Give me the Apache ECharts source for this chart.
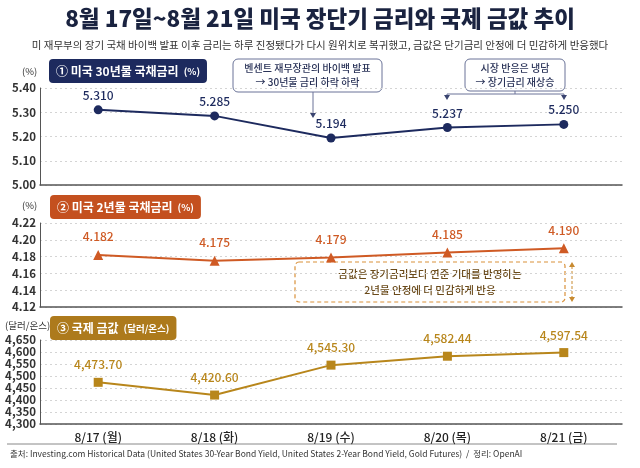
<!DOCTYPE html>
<html>
<head>
<meta charset="utf-8">
<script src="https://cdn.jsdelivr.net/npm/echarts@6/dist/echarts.min.js"></script>
<style>
  html, body { margin: 0; padding: 0; background: #fff; }
  #main { width: 640px; height: 468px; }
</style>
</head>
<body>
<div id="main"></div>
<script>
// 날짜 (x축)
var days = ["8/17 (월)", "8/18 (화)", "8/19 (수)", "8/20 (목)", "8/21 (금)"];
// 미국 30년물 국채금리 (%)
var us30y = [5.310, 5.285, 5.194, 5.237, 5.250];
// 미국 2년물 국채금리 (%)
var us2y = [4.182, 4.175, 4.179, 4.185, 4.190];
// 국제 금값 (달러/온스)
var gold = [4473.70, 4420.60, 4545.30, 4582.44, 4597.54];

var font = "Noto Sans CJK KR";
var navy = "#1d2a5e";
var orange = "#cf5a24";
var goldColor = "#b8861b";

var chart = echarts.init(document.getElementById("main"));

function yAxisOf(idx, min, max, interval, digits, comma) {
  return {
    type: "value",
    gridIndex: idx,
    min: min,
    max: max,
    interval: interval,
    axisLine: { show: true, lineStyle: { color: "#555", width: 1 } },
    axisTick: { show: false },
    splitLine: { lineStyle: { color: "#d4d4d4", type: [2, 3] } },
    axisLabel: {
      fontFamily: font,
      fontSize: 11.5,
      fontWeight: "bold",
      color: "#333",
      margin: 4,
      formatter: function (v) {
        return comma ? v.toLocaleString("en-US") : v.toFixed(digits);
      }
    }
  };
}

function xAxisOf(idx, showLabel) {
  return {
    type: "category",
    gridIndex: idx,
    data: days,
    boundaryGap: true,
    axisLine: { show: true, lineStyle: { color: "#555", width: 1.5 } },
    axisTick: { show: false },
    axisLabel: {
      show: showLabel,
      fontFamily: font,
      fontSize: 12,
      fontWeight: 500,
      color: "#222",
      margin: 7
    }
  };
}

function seriesOf(idx, data, color, symbol, size, dist, fmt) {
  return {
    type: "line",
    xAxisIndex: idx,
    yAxisIndex: idx,
    data: data,
    symbol: symbol,
    symbolSize: size,
    lineStyle: { color: color, width: 2 },
    itemStyle: { color: color },
    label: {
      show: true,
      position: "top",
      distance: dist,
      fontFamily: font,
      fontSize: 12,
      fontWeight: 500,
      color: color,
      formatter: function (p) { return fmt(p.value); }
    },
    z: 5
  };
}

// 패널 제목 뱃지
function badge(text, unit, x, y, bg) {
  return {
    text: "{a|" + text + "} {b|" + unit + "}",
    left: x,
    top: y,
    backgroundColor: bg,
    borderRadius: 4,
    padding: [3, 7, 3, 7],
    textStyle: {
      rich: {
        a: { fontFamily: font, fontSize: 12, fontWeight: "bold", color: "#fff" },
        b: { fontFamily: font, fontSize: 9.5, fontWeight: "bold", color: "#fff" }
      }
    }
  };
}

function unitText(text, x, y) {
  return {
    type: "text", left: x, top: y,
    style: { text: text, fontFamily: font, fontSize: 9.5, fill: "#333" }
  };
}

function arrowHead(x, y, color) {
  return {
    type: "polygon",
    shape: { points: [[x - 3, y - 5], [x + 3, y - 5], [x, y]] },
    style: { fill: color }
  };
}

function noteBox(x, y, w, h, lines) {
  return {
    type: "group",
    children: [
      {
        type: "rect",
        shape: { x: x, y: y, width: w, height: h, r: 5 },
        style: { fill: "#fff", stroke: "#6a7398", lineWidth: 1 }
      },
      {
        type: "text",
        x: x + w / 2, y: y + h / 2,
        style: {
          text: lines.join("\n"),
          align: "center", verticalAlign: "middle",
          fontFamily: font, fontSize: 10, fontWeight: 500, lineHeight: 14, fill: "#2a3358"
        }
      }
    ]
  };
}

var option = {
  backgroundColor: "#fff",
  animation: false,
  title: [
    {
      text: "8월 17일~8월 21일 미국 장단기 금리와 국제 금값 추이",
      left: "center",
      top: 2,
      textStyle: { fontFamily: font, fontSize: 22.5, fontWeight: 900, color: "#1a2340" }
    },
    {
      text: "미 재무부의 장기 국채 바이백 발표 이후 금리는 하루 진정됐다가 다시 원위치로 복귀했고, 금값은 단기금리 안정에 더 민감하게 반응했다",
      left: "center",
      top: 35,
      textStyle: { fontFamily: font, fontSize: 10.5, fontWeight: "normal", color: "#333" }
    },
    badge("① 미국 30년물 국채금리", "(%)", 49, 59, navy),
    badge("② 미국 2년물 국채금리", "(%)", 50, 195, "#c4501f"),
    badge("③ 국제 금값", "(달러/온스)", 50, 316, "#ad7a1c")
  ],
  grid: [
    { left: 40, right: 18, top: 88, height: 97 },
    { left: 40, right: 18, top: 223, height: 84 },
    { left: 40, right: 18, top: 340, height: 84 }
  ],
  xAxis: [xAxisOf(0, false), xAxisOf(1, false), xAxisOf(2, true)],
  yAxis: [
    yAxisOf(0, 5.0, 5.4, 0.1, 2, false),
    yAxisOf(1, 4.12, 4.22, 0.02, 2, false),
    yAxisOf(2, 4300, 4650, 50, 0, true)
  ],
  series: [
    seriesOf(0, us30y, navy, "circle", 9, 4, function (v) { return v.toFixed(3); }),
    seriesOf(1, us2y, orange, "triangle", 10, 7, function (v) { return v.toFixed(3); }),
    seriesOf(2, gold, goldColor, "rect", 9, 7, function (v) {
      return v.toLocaleString("en-US", { minimumFractionDigits: 2, maximumFractionDigits: 2 });
    })
  ],
  graphic: [
    unitText("(%)", 22, 67),
    unitText("(%)", 22, 201),
    unitText("(달러/온스)", 5, 321),

    // 주석 1: 바이백 발표
    noteBox(233, 59, 149, 33, ["벤센트 재무장관의 바이백 발표", "→ 30년물 금리 하락 하락"]),
    { type: "line", shape: { x1: 313, y1: 92, x2: 313, y2: 113 }, style: { stroke: "#6a7398", lineWidth: 1 } },
    arrowHead(313, 118, "#3a4470"),

    // 주석 2: 시장 반응은 냉담
    noteBox(465, 59, 100, 32, ["시장 반응은 냉담", "→ 장기금리 재상승"]),
    { type: "line", shape: { x1: 515, y1: 91, x2: 515, y2: 94 }, style: { stroke: "#6a7398", lineWidth: 1 } },
    { type: "line", shape: { x1: 447, y1: 94, x2: 564, y2: 94 }, style: { stroke: "#6a7398", lineWidth: 1 } },
    { type: "line", shape: { x1: 447, y1: 94, x2: 447, y2: 96 }, style: { stroke: "#6a7398", lineWidth: 1 } },
    { type: "line", shape: { x1: 564, y1: 94, x2: 564, y2: 96 }, style: { stroke: "#6a7398", lineWidth: 1 } },
    arrowHead(447, 100, "#3a4470"),
    arrowHead(564, 100, "#3a4470"),

    // 주석 3: 금값 민감도 (점선 박스)
    {
      type: "rect",
      shape: { x: 295, y: 262, width: 270, height: 40, r: 4 },
      style: { fill: "#fff", stroke: "#d9913a", lineWidth: 1.2, lineDash: [4, 3] }
    },
    {
      type: "text", x: 430, y: 282,
      style: {
        text: "금값은 장기금리보다 연준 기대를 반영하는\n2년물 안정에 더 민감하게 반응",
        align: "center", verticalAlign: "middle",
        fontFamily: font, fontSize: 10.5, fontWeight: 500, lineHeight: 16, fill: "#6a4a1a"
      }
    },
    { type: "line", shape: { x1: 572, y1: 266, x2: 572, y2: 298 }, style: { stroke: "#c88a30", lineWidth: 1, lineDash: [3, 2] } },
    { type: "polygon", shape: { points: [[569, 267], [575, 267], [572, 262]] }, style: { fill: "#c88a30" } },
    { type: "polygon", shape: { points: [[569, 297], [575, 297], [572, 302]] }, style: { fill: "#c88a30" } },

    // 하단 출처
    { type: "line", shape: { x1: 7, y1: 444, x2: 617, y2: 444 }, style: { stroke: "#888", lineWidth: 1 } },
    {
      type: "text", left: 10, top: 450,
      style: {
        text: "출처: Investing.com Historical Data (United States 30-Year Bond Yield, United States 2-Year Bond Yield, Gold Futures)  /  정리: OpenAI",
        fontFamily: font, fontSize: 8.5, fill: "#333"
      }
    }
  ]
};

chart.setOption(option);
</script>
</body>
</html>
